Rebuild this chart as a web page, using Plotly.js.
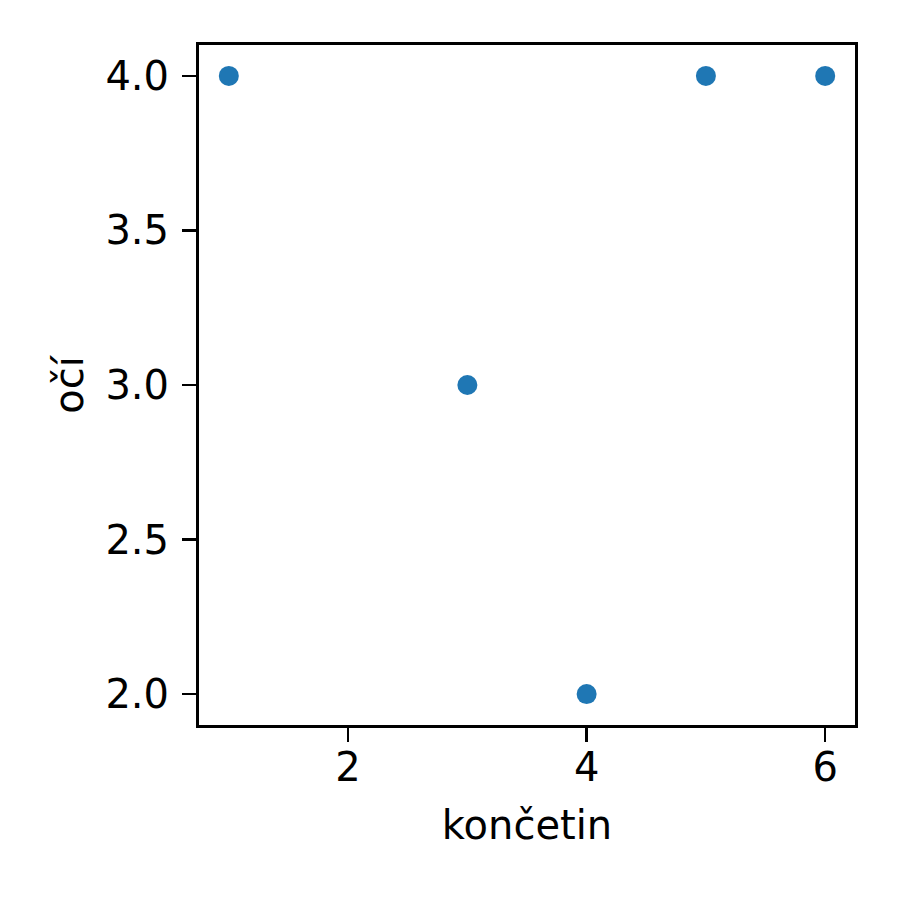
<!DOCTYPE html>
<html>
<head>
<meta charset="utf-8">
<script src="https://cdn.plot.ly/plotly-3.0.1.min.js"></script>
<style>html,body{margin:0;padding:0;background:#fff;}</style>
</head>
<body>
<div id="chart" style="width:900px;height:900px;"></div>
<script>
const limbs = [1, 3, 4, 5, 6];
const eyes = [4, 3, 2, 4, 4];
const xTicks = [2, 4, 6];
const yTicks = [2.0, 2.5, 3.0, 3.5, 4.0];
const xLabel = "končetin";
const yLabel = "očí";

const font = {family: "DejaVu Sans, sans-serif", size: 40, color: "#000"};
Plotly.newPlot("chart", [{
  x: limbs, y: eyes, type: "scatter", mode: "markers",
  marker: {color: "#1f77b4", size: 20, line: {width: 0}}
}], {
  width: 900, height: 900,
  margin: {l: 199, r: 45, t: 45, b: 175},
  paper_bgcolor: "#fff", plot_bgcolor: "#fff",
  showlegend: false,
  font: font,
  xaxis: {
    range: [0.75, 6.25], tickvals: xTicks, ticktext: xTicks.map(v => String(v)),
    showgrid: false, zeroline: false, showline: true, mirror: true,
    linecolor: "#000", linewidth: 3, ticks: "outside", ticklen: 14, tickwidth: 2.5, tickcolor: "#000",
    ticklabelstandoff: -9,
    tickfont: font, title: {text: xLabel, font: font, standoff: 22}
  },
  yaxis: {
    range: [1.9, 4.1], tickvals: yTicks, ticktext: yTicks.map(v => v.toFixed(1)),
    showgrid: false, zeroline: false, showline: true, mirror: true,
    linecolor: "#000", linewidth: 3, ticks: "outside", ticklen: 14, tickwidth: 2.5, tickcolor: "#000",
    ticklabelstandoff: 5,
    tickfont: font, title: {text: yLabel, font: font, standoff: 10}
  }
}, {displayModeBar: false, staticPlot: true});
</script>
</body>
</html>
